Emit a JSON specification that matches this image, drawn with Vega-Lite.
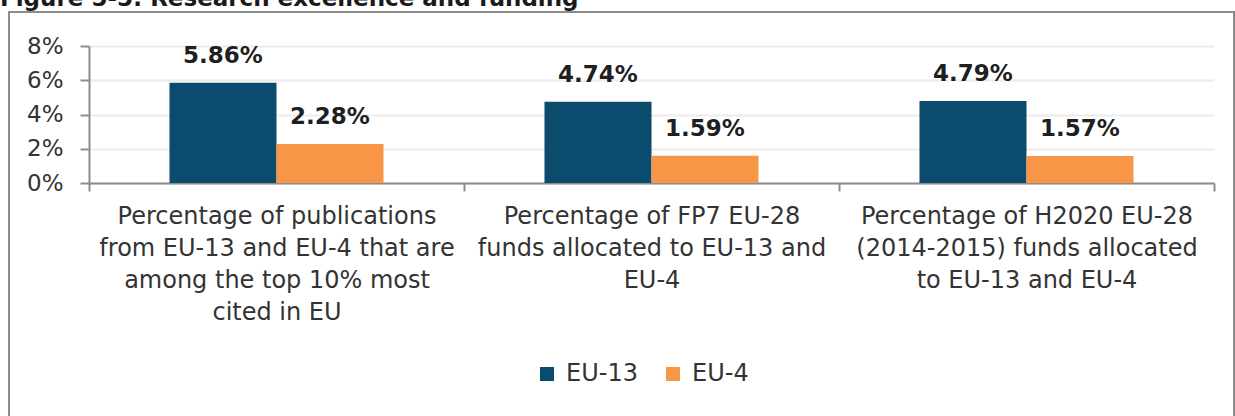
{
  "$schema": "https://vega.github.io/schema/vega-lite/v6.json",
  "width": 1225,
  "height": 420,
  "autosize": {"type": "none"},
  "padding": {"left": 9, "top": 12, "right": 1, "bottom": 0},
  "background": "white",
  "title": {
    "text": "Figure 5-5: Research excellence and funding",
    "anchor": "start",
    "frame": "group",
    "font": "DejaVu Sans",
    "fontSize": 23,
    "fontWeight": "bold",
    "color": "#1a1a1a",
    "baseline": "alphabetic",
    "offset": 4,
    "dx": -9,
    "dy": 21
  },
  "config": {
    "view": {"stroke": "#8c8c8c", "strokeWidth": 2},
    "font": "DejaVu Sans"
  },
  "data": {
    "values": [
      {"category": "Percentage of publications|from EU-13 and EU-4 that are|among the top 10% most|cited in EU", "series": "EU-13", "value": 0.0586},
      {"category": "Percentage of publications|from EU-13 and EU-4 that are|among the top 10% most|cited in EU", "series": "EU-4", "value": 0.0228},
      {"category": "Percentage of FP7 EU-28|funds allocated to EU-13 and|EU-4", "series": "EU-13", "value": 0.0474},
      {"category": "Percentage of FP7 EU-28|funds allocated to EU-13 and|EU-4", "series": "EU-4", "value": 0.0159},
      {"category": "Percentage of H2020 EU-28|(2014-2015) funds allocated|to EU-13 and EU-4", "series": "EU-13", "value": 0.0479},
      {"category": "Percentage of H2020 EU-28|(2014-2015) funds allocated|to EU-13 and EU-4", "series": "EU-4", "value": 0.0157}
    ]
  },
  "encoding": {
    "x": {
      "field": "category",
      "type": "nominal",
      "sort": null,
      "title": null,
      "scale": {"range": [80, 1205], "paddingInner": 0, "paddingOuter": 0},
      "axis": {
        "orient": "bottom",
        "offset": -249,
        "labelAngle": 0,
        "labelExpr": "split(datum.label, '|')",
        "labelFontSize": 24,
        "labelLineHeight": 32,
        "labelColor": "#333333",
        "labelLimit": 800,
        "labelPadding": 13,
        "labelFont": "DejaVu Sans",
        "tickBand": "extent",
        "tickSize": 8,
        "tickWidth": 2,
        "tickColor": "#8c8c8c",
        "domainColor": "#8c8c8c",
        "domainWidth": 2,
        "grid": false
      }
    },
    "xOffset": {
      "field": "series",
      "type": "nominal",
      "sort": ["EU-13", "EU-4"],
      "scale": {"paddingInner": 0, "paddingOuter": 0.752}
    },
    "y": {
      "field": "value",
      "type": "quantitative",
      "title": null,
      "scale": {"domain": [0, 0.08], "range": [171, 34], "nice": false, "zero": true},
      "axis": {
        "values": [0, 0.02, 0.04, 0.06, 0.08],
        "format": ".0%",
        "offset": -80,
        "labelFontSize": 23,
        "labelColor": "#333333",
        "labelPadding": 17,
        "labelFont": "DejaVu Sans",
        "tickSize": 9,
        "tickWidth": 2,
        "tickColor": "#8c8c8c",
        "domainColor": "#8c8c8c",
        "domainWidth": 2,
        "grid": true,
        "gridColor": "#ececec",
        "gridWidth": 2
      }
    }
  },
  "layer": [
    {
      "mark": {"type": "bar"},
      "encoding": {
        "color": {
          "field": "series",
          "type": "nominal",
          "sort": ["EU-13", "EU-4"],
          "scale": {"domain": ["EU-13", "EU-4"], "range": ["#0b4b6e", "#f79646"]},
          "legend": {
            "title": null,
            "orient": "none",
            "direction": "horizontal",
            "legendX": 526,
            "legendY": 350,
            "padding": 0,
            "symbolType": "square",
            "symbolSize": 196,
            "symbolStrokeWidth": 0,
            "labelFontSize": 24,
            "labelFont": "DejaVu Sans",
            "labelColor": "#333333",
            "labelOffset": 7,
            "columnPadding": 23
          }
        }
      }
    },
    {
      "mark": {"type": "text", "baseline": "alphabetic", "dy": -20, "fontSize": 23, "fontWeight": "bold", "color": "#1f1f1f", "font": "DejaVu Sans"},
      "encoding": {
        "text": {"field": "value", "type": "quantitative", "format": ".2%"},
        "detail": {"field": "series"}
      }
    }
  ]
}
